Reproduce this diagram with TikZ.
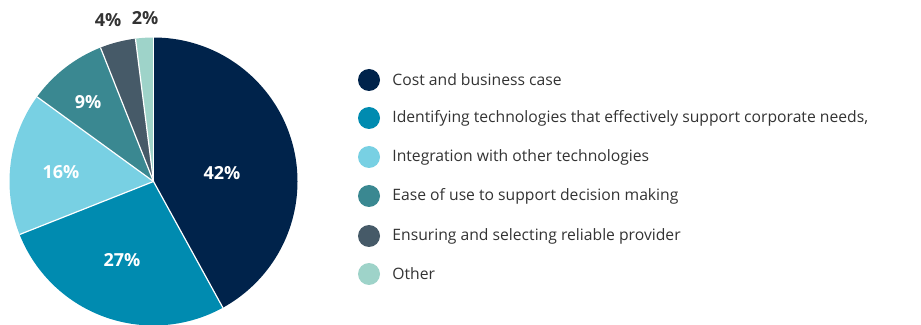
\documentclass[tikz,border=0pt]{standalone}
\usepackage{fontspec}
\setmainfont{Open Sans}
\usetikzlibrary{positioning}
\definecolor{costcol}{HTML}{00234B}
\definecolor{identcol}{HTML}{008BB0}
\definecolor{integcol}{HTML}{78D0E3}
\definecolor{easecol}{HTML}{3A8891}
\definecolor{provcol}{HTML}{465A68}
\definecolor{othercol}{HTML}{9ED3C9}
\definecolor{labeltext}{HTML}{333333}
\tikzstyle{pct}=[font=\bfseries\fontsize{18}{21}\selectfont,text=white,inner sep=0pt]
\tikzstyle{outpct}=[pct,text=labeltext]
\tikzstyle{legenddot}=[circle,minimum size=22pt,inner sep=0pt]
\tikzstyle{legendtext}=[font=\fontsize{15.7}{19}\selectfont,text=labeltext,inner sep=0pt]
\begin{document}
\begin{tikzpicture}[x=1pt,y=1pt]
  \useasboundingbox (0,0) rectangle (921,324);

  \def\r{144};
  \coordinate (centre) at (153.5,142.5);

  % slices, clockwise from the top
  \foreach \from/\to/\col in {90/-61.2/costcol, -61.2/-158.4/identcol, 201.6/144/integcol,
                              144/111.6/easecol, 111.6/97.2/provcol, 97.2/90/othercol}
     \fill[\col] (centre) -- ++(\from:\r) arc (\from:\to:\r) -- cycle;

  \foreach \a in {90,-61.2,-158.4,144,111.6,97.2}
     \draw[white,line width=1.2pt] (centre) -- ++(\a:\r);

  % percentages
  \foreach \x/\y/\name/\label in {222/151/p42/42, 122/64/p27/27, 61/152/p16/16, 88/222/p9/9}
     \node[pct] (\name) at (\x,\y) {\label\%};
  \foreach \x/\y/\name/\label in {108/304/p4/4, 145/306/p2/2}
     \node[outpct] (\name) at (\x,\y) {\label\%};

  % legend
  \foreach \y/\name/\col/\txt in {244/cost/costcol/Cost and business case,
     206/ident/identcol/{Identifying technologies that effectively support corporate needs,},
     167/integ/integcol/Integration with other technologies,
     128/ease/easecol/Ease of use to support decision making,
     88/prov/provcol/Ensuring and selecting reliable provider,
     50/other/othercol/Other}
  {
     \node[legenddot,fill=\col] (dot\name) at (369,\y) {};
     \node[legendtext,right=12pt of dot\name] (txt\name) {\txt};
  }

\end{tikzpicture}
\end{document}
